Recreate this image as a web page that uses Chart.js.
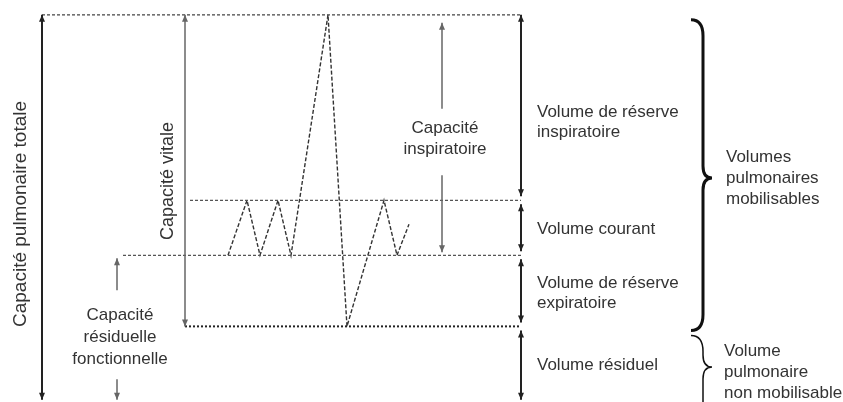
<!DOCTYPE HTML>
<html>
<head>
    <title>Volumes pulmonaires</title>
    <meta charset="utf-8" />
    <script src="https://cdn.jsdelivr.net/npm/chart.js@4.4.1/dist/chart.umd.min.js"></script>
    <style>
        body { margin: 0; background: #fff; }
        #wrap { width: 843px; height: 402px; }
    </style>
</head>
<body>
<div id="wrap"><canvas id="chartCanvas" width="843" height="402"></canvas></div>
<script>
    // volumes (L) des niveaux : VR, CRF, fin d'inspiration courante, CPT
    const levelNames = ['VR', 'CRF', 'VT haut', 'CPT'];
    const levelVolumes = [1.15, 2.25, 3.1, 5.97];

    // spirogramme : temps (u.a.) et volume (L)
    const traceTime = [22.8, 24.7, 26.0, 27.8, 29.1, 32.8, 34.7, 38.4, 39.7, 40.9];
    const traceVolume = [2.25, 3.1, 2.25, 3.1, 2.25, 5.97, 1.15, 3.1, 2.25, 2.73];

    const rightLabels = [
        ['Volume résiduel'],
        ['Volume de réserve', 'expiratoire'],
        ['Volume courant'],
        ['Volume de réserve', 'inspiratoire']
    ];

    const fontFamily = '"Liberation Sans", Arial, Helvetica, sans-serif';
    const ink = '#333';
    const rightX = 52.1;

    const vr = levelVolumes[0], crf = levelVolumes[1], vtTop = levelVolumes[2], cpt = levelVolumes[3];

    function hline(from, level, color, dash, width) {
        return {
            data: [{x: from, y: level}, {x: rightX, y: level}],
            showLine: true,
            borderColor: color, borderDash: dash, borderWidth: width,
            pointRadius: 0, tension: 0
        };
    }

    function arrowHead(ctx, x, y, dir, color) {
        ctx.fillStyle = color;
        ctx.beginPath();
        ctx.moveTo(x, y);
        ctx.lineTo(x - 3, y - dir * 7);
        ctx.lineTo(x + 3, y - dir * 7);
        ctx.closePath();
        ctx.fill();
    }

    function arrow(ctx, x, y1, y2, color, width, heads) {
        ctx.strokeStyle = color;
        ctx.lineWidth = width;
        ctx.beginPath();
        ctx.moveTo(x, y1);
        ctx.lineTo(x, y2);
        ctx.stroke();
        if (heads.indexOf('top') >= 0) arrowHead(ctx, x, Math.min(y1, y2), -1, color);
        if (heads.indexOf('bottom') >= 0) arrowHead(ctx, x, Math.max(y1, y2), 1, color);
    }

    function textLines(ctx, lines, x, yc, align, gap, size) {
        ctx.font = (size || 17) + 'px ' + fontFamily;
        ctx.fillStyle = ink;
        ctx.textAlign = align;
        ctx.textBaseline = 'middle';
        const y0 = yc - (lines.length - 1) * gap / 2;
        lines.forEach((l, i) => ctx.fillText(l, x, y0 + i * gap));
    }

    function brace(ctx, x, top, tip, bottom, width) {
        ctx.strokeStyle = '#111';
        ctx.lineWidth = width;
        ctx.beginPath();
        ctx.moveTo(x - 12, top);
        ctx.quadraticCurveTo(x, top, x, top + 16);
        ctx.lineTo(x, tip - 12);
        ctx.quadraticCurveTo(x, tip, x + 9, tip);
        ctx.quadraticCurveTo(x, tip, x, tip + 12);
        ctx.lineTo(x, bottom - 16);
        ctx.quadraticCurveTo(x, bottom, x - 12, bottom);
        ctx.stroke();
    }

    const annotations = {
        id: 'annotations',
        afterDatasetsDraw(chart) {
            const ctx = chart.ctx;
            const X = v => chart.scales.x.getPixelForValue(v);
            const Y = v => chart.scales.y.getPixelForValue(v);
            ctx.save();

            // capacité pulmonaire totale
            arrow(ctx, X(4.2), Y(cpt), Y(0) - 1, '#222', 2, ['top', 'bottom']);
            ctx.save();
            ctx.translate(X(2.1), 214);
            ctx.rotate(-Math.PI / 2);
            textLines(ctx, ['Capacité pulmonaire totale'], 0, 0, 'center', 0, 19);
            ctx.restore();

            // capacité vitale
            arrow(ctx, X(18.5), Y(cpt), Y(vr), '#666', 1.5, ['top', 'bottom']);
            ctx.save();
            ctx.translate(X(16.8), 181);
            ctx.rotate(-Math.PI / 2);
            textLines(ctx, ['Capacité vitale'], 0, 0, 'center', 0, 18);
            ctx.restore();

            // capacité inspiratoire
            const ciX = X(44.2);
            arrow(ctx, ciX, Y(cpt) + 8, Y(cpt) + 94, '#666', 1.5, ['top']);
            arrow(ctx, ciX, Y(crf) - 80, Y(crf) - 3, '#666', 1.5, ['bottom']);
            textLines(ctx, ['Capacité', 'inspiratoire'], X(44.5), 139, 'center', 21);

            // capacité résiduelle fonctionnelle
            const crfX = X(11.7);
            arrow(ctx, crfX, Y(crf) + 3, Y(crf) + 35, '#666', 1.5, ['top']);
            arrow(ctx, crfX, Y(crf) + 124, Y(0) - 1, '#666', 1.5, ['bottom']);
            textLines(ctx, ['Capacité', 'résiduelle', 'fonctionnelle'], X(12.0), 337, 'center', 22);

            // volumes à droite
            const rx = X(rightX);
            const bounds = [0].concat(levelVolumes);
            for (let i = 0; i < bounds.length - 1; i++) {
                const yb = Y(bounds[i]) - (i === 0 ? 1 : 4);
                const yt = Y(bounds[i + 1]) + (i === bounds.length - 2 ? 0 : 4);
                arrow(ctx, rx, yt, yb, '#222', 2, ['top', 'bottom']);
            }
            textLines(ctx, rightLabels[0], X(53.7), 365, 'left', 20);
            textLines(ctx, rightLabels[1], X(53.7), 293, 'left', 20);
            textLines(ctx, rightLabels[2], X(53.7), 229, 'left', 20);
            textLines(ctx, rightLabels[3], X(53.7), 122, 'left', 20);

            // accolades
            brace(ctx, X(70.3), Y(cpt) + 5, 178, Y(vr) + 4, 3);
            brace(ctx, X(70.3), Y(vr) + 9, 367, Y(0) + 30, 1.5);
            textLines(ctx, ['Volumes', 'pulmonaires', 'mobilisables'], X(72.6), 178, 'left', 21);
            textLines(ctx, ['Volume', 'pulmonaire', 'non mobilisable'], X(72.4), 372, 'left', 21);

            ctx.restore();
        }
    };

    const config = {
        type: 'scatter',
        data: {
            datasets: [
                hline(4.2, cpt, '#444', [3, 2], 1.2),
                hline(19.0, vtTop, '#555', [3, 2], 1.2),
                hline(12.3, crf, '#555', [3, 2], 1.2),
                hline(18.5, vr, '#222', [2, 2], 2),
                {
                    label: 'Spirogramme',
                    data: traceTime.map((t, i) => ({x: t, y: traceVolume[i]})),
                    showLine: true,
                    borderColor: '#333',
                    borderDash: [4, 2],
                    borderWidth: 1.4,
                    pointRadius: 0,
                    tension: 0
                }
            ]
        },
        options: {
            responsive: false,
            animation: false,
            layout: { padding: 0 },
            plugins: {
                legend: { display: false },
                tooltip: { enabled: false }
            },
            scales: {
                x: { type: 'linear', min: 0, max: 84.3, display: false },
                y: { type: 'linear', min: -0.02, max: 6.2, display: false }
            }
        },
        plugins: [annotations]
    };

    new Chart(document.getElementById('chartCanvas'), config);
</script>
</body>
</html>
